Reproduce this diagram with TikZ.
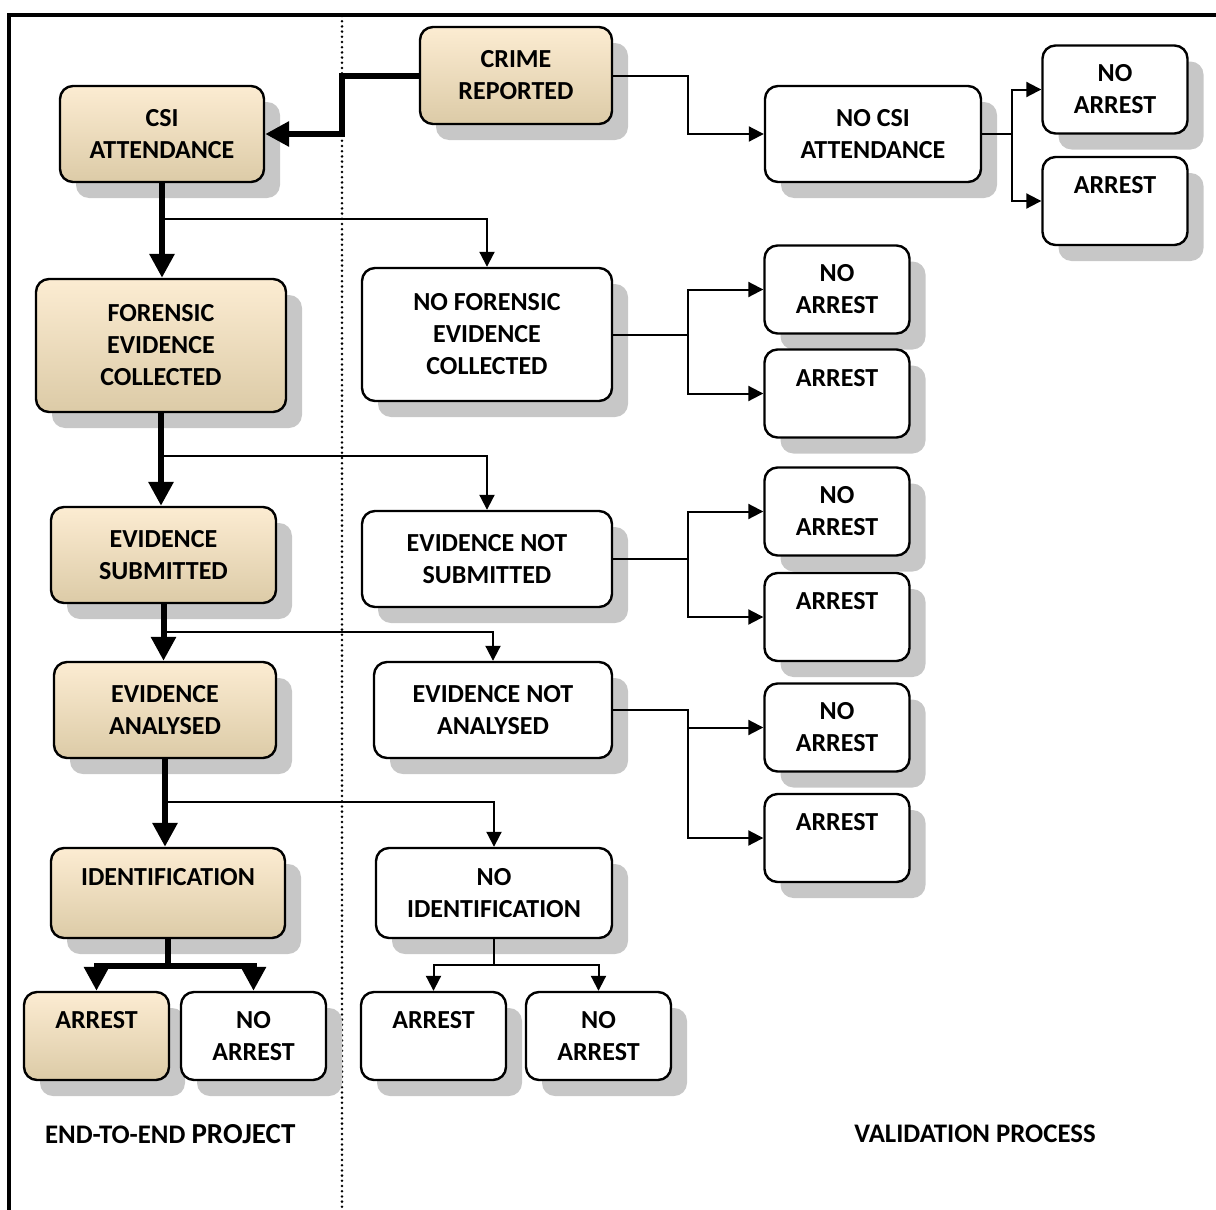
\documentclass[tikz,border=0pt]{standalone}
\usepackage{fontspec}
\setmainfont{Carlito}
\usetikzlibrary{arrows.meta,shadows}

\definecolor{tanTop}{HTML}{FCECD2}
\definecolor{tanMid}{HTML}{F3EBDA}
\definecolor{tanBot}{HTML}{DCCBA7}

\tikzset{
  box/.style={draw, line width=1.2pt, rounded corners=6.5pt, align=center,
    inner sep=0pt, fill=white, font=\fontsize{13}{16}\selectfont\bfseries,
    drop shadow={shadow xshift=8pt, shadow yshift=-8pt, fill=black!22, opacity=1}},
  tanbox/.style={box, top color=tanTop, middle color=tanMid, bottom color=tanBot},
  small/.style={minimum width=72.5pt, minimum height=44pt},
  bigarrow/.style={line width=3pt, -{Triangle[length=12pt, width=12pt]}},
  smallarrow/.style={line width=1pt, -{Triangle[length=7.5pt, width=7.5pt]}},
  lbl/.style={font=\fontsize{13.4}{16}\selectfont\bfseries},
}

\begin{document}
\begin{tikzpicture}[x=0.5pt, y=-0.5pt]
    \useasboundingbox (0,0) rectangle (1216,1210);
    % frame and divider
    \draw[line width=2pt] (8.5,1210) -- (8.5,15) -- (1216,15);
    \draw[line width=1.4pt, line cap=round, dash pattern=on 0pt off 2.6pt] (342,16) -- (342,1210);

    % end-to-end column
    \node[tanbox, minimum width=96pt, minimum height=48.5pt] (crime) at (516,75.5) {CRIME\\REPORTED};
    \node[tanbox, minimum width=102pt, minimum height=48pt] (csi) at (162,134) {CSI\\ATTENDANCE};
    \node[tanbox, minimum width=125pt, minimum height=66.5pt] (forensic) at (161,345.5) {FORENSIC\\EVIDENCE\\COLLECTED};
    \node[tanbox, minimum width=112.5pt, minimum height=48pt] (submitted) at (163.5,555) {EVIDENCE\\SUBMITTED};
    \node[tanbox, minimum width=111pt, minimum height=48pt] (analysed) at (165,710) {EVIDENCE\\ANALYSED};
    \node[tanbox, minimum width=117pt, minimum height=45pt] (ident) at (168,893) {IDENTIFICATION\\\mbox{}};
    \node[tanbox, small] (arrE) at (96.5,1036) {ARREST\\\mbox{}};
    \node[box, small] (noarrE) at (253.5,1036) {NO\\ARREST};

    % validation column
    \node[box, minimum width=108pt, minimum height=48pt] (nocsi) at (873,134) {NO CSI\\ATTENDANCE};
    \node[box, small] (noarrA) at (1115,89.5) {NO\\ARREST};
    \node[box, small] (arrA) at (1115,201) {ARREST\\\mbox{}};
    \node[box, minimum width=125pt, minimum height=66.5pt] (noforensic) at (487,334.5) {NO FORENSIC\\EVIDENCE\\COLLECTED};
    \node[box, small] (noarrB) at (837,289.5) {NO\\ARREST};
    \node[box, small] (arrB) at (837,393.5) {ARREST\\\mbox{}};
    \node[box, minimum width=125pt, minimum height=48pt] (notsubmitted) at (487,559) {EVIDENCE NOT\\SUBMITTED};
    \node[box, small] (noarrC) at (837,511.5) {NO\\ARREST};
    \node[box, small] (arrC) at (837,617) {ARREST\\\mbox{}};
    \node[box, minimum width=119pt, minimum height=48pt] (notanalysed) at (493,710) {EVIDENCE NOT\\ANALYSED};
    \node[box, small] (noarrD) at (837,727.5) {NO\\ARREST};
    \node[box, small] (arrD) at (837,838) {ARREST\\\mbox{}};
    \node[box, minimum width=118pt, minimum height=45pt] (noident) at (494,893) {NO\\IDENTIFICATION};
    \node[box, small] (arrF) at (433.5,1036) {ARREST\\\mbox{}};
    \node[box, small] (noarrF) at (598.5,1036) {NO\\ARREST};

    \node[lbl, anchor=west] (endlbl) at (38,1134) {END-TO-END {\fontsize{14.5}{16}\selectfont PROJECT}};
    \node[lbl] (vallbl) at (975,1134) {VALIDATION PROCESS};

    % main path
    \coordinate (k0) at (342,100);
    \coordinate (k5) at (168,966);
    \draw[bigarrow] (crime.west) -| (k0) |- (csi.east);
    \draw[bigarrow] (csi.south) -- (csi.south |- forensic.north);
    \draw[bigarrow] (forensic.south) -- (forensic.south |- submitted.north);
    \draw[bigarrow] (submitted.south) -- (submitted.south |- analysed.north);
    \draw[bigarrow] (analysed.south) -- (analysed.south |- ident.north);
    \draw[bigarrow] (ident.south) -- (k5) -| (arrE.north);
    \draw[bigarrow] (k5) -| (noarrE.north);

    % branches
    \coordinate (b1) at (162,219);
    \coordinate (b2) at (162,456);
    \coordinate (b3) at (165,632);
    \coordinate (b4) at (168,802);
    \draw[smallarrow] (b1) -| (noforensic.north);
    \draw[smallarrow] (b2) -| (notsubmitted.north);
    \draw[smallarrow] (b3) -| (notanalysed.north);
    \draw[smallarrow] (b4) -| (noident.north);

    \coordinate (c1) at (688,0);
    \coordinate (c2) at (1012,0);
    \coordinate (k6) at (494,965);
    \draw[smallarrow] (crime.east) -| (c1 |- nocsi.west) -- (nocsi.west);
    \draw[smallarrow] (nocsi.east) -- (c2 |- nocsi.east) |- (noarrA.west);
    \draw[smallarrow] (c2 |- nocsi.east) |- (arrA.west);
    \draw[smallarrow] (noforensic.east) -- (c1 |- noforensic.east) |- (noarrB.west);
    \draw[smallarrow] (c1 |- noforensic.east) |- (arrB.west);
    \draw[smallarrow] (notsubmitted.east) -- (c1 |- notsubmitted.east) |- (noarrC.west);
    \draw[smallarrow] (c1 |- notsubmitted.east) |- (arrC.west);
    \draw[smallarrow] (notanalysed.east) -| (c1 |- arrD.west) -- (arrD.west);
    \draw[smallarrow] (c1 |- noarrD.west) -- (noarrD.west);
    \draw[smallarrow] (noident.south) -- (k6) -| (arrF.north);
    \draw[smallarrow] (k6) -| (noarrF.north);
\end{tikzpicture}
\end{document}
